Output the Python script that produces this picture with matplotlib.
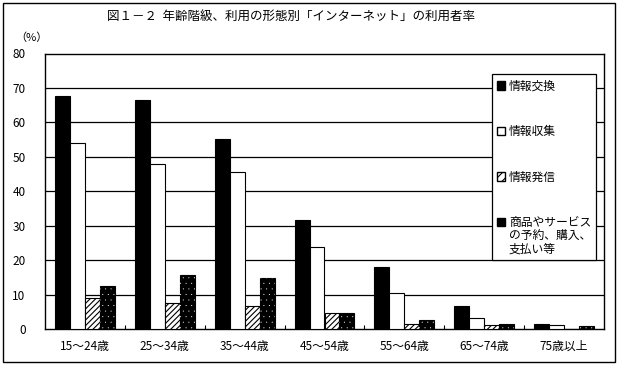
import numpy as np
import matplotlib
matplotlib.use("Agg")
import matplotlib.pyplot as plt
from matplotlib.patches import Rectangle, Patch
from matplotlib.legend_handler import HandlerPatch

plt.rcParams['font.family'] = ['Noto Sans CJK JP', 'DejaVu Sans']
plt.rcParams['hatch.linewidth'] = 0.8

ages = ["15～24歳", "25～34歳", "35～44歳", "45～54歳", "55～64歳", "65～74歳", "75歳以上"]
exchange = [67.8, 66.6, 55.2, 31.7, 18.0, 6.7, 1.5]
collect = [54.0, 47.9, 45.5, 23.8, 10.4, 3.3, 1.2]
send = [8.9, 7.5, 6.6, 4.6, 1.5, 1.2, 0.0]
shopping = [12.5, 15.7, 14.8, 4.6, 2.6, 1.5, 0.9]
labels = ["情報交換", "情報収集", "情報発信", "商品やサービス\nの予約、購入、\n支払い等"]
yticks = [0, 10, 20, 30, 40, 50, 60, 70, 80]

W, H = 620, 367
fig = plt.figure(figsize=(W / 100, H / 100), dpi=100)
ax = fig.add_axes([45 / W, 38 / H, (604 - 45) / W, (329 - 53.5) / H])

x = np.arange(len(ages))
bw = 0.1875
off = [-1.5 * bw, -0.5 * bw, 0.5 * bw, 1.5 * bw]

ax.bar(x + off[0], exchange, bw, color="black", edgecolor="black", lw=0.8, zorder=3)
ax.bar(x + off[1], collect, bw, color="white", edgecolor="black", lw=0.8, zorder=3)
ax.bar(x + off[2], send, bw, color="white", edgecolor="black", lw=0.8, hatch="//////", zorder=3)
# black bars with small white dots
ax.bar(x + off[3], shopping, bw, color="black", edgecolor="black", lw=0.8, zorder=3)
plt.rcParams['hatch.linewidth'] = 0.0
ax.bar(x + off[3], shopping, bw, fill=False, edgecolor="white", lw=0, hatch="...", zorder=4)
plt.rcParams['hatch.linewidth'] = 0.8

ax.set_xlim(-0.5, len(ages) - 0.5)
ax.set_ylim(0, 80)
ax.set_yticks(yticks)
ax.set_yticklabels([str(v) for v in yticks], fontsize=8.5)
ax.tick_params(axis="y", length=0, pad=14)
ax.set_xticks(x)
ax.set_xticklabels(ages, fontsize=8.5)
ax.tick_params(axis="x", which="major", length=0, pad=8)
ax.set_xticks(x[:-1] + 0.5, minor=True)
ax.tick_params(axis="x", which="minor", direction="in", length=3, width=0.8)
for v in yticks[1:-1]:
    ax.axhline(v, color="black", lw=0.9, zorder=1)
for s in ax.spines.values():
    s.set_linewidth(1.0)


# put the legend square at the first text line
def square_top(legend, orig_handle, xdescent, ydescent, width, height, fontsize):
    shift = 0
    if orig_handle.get_label() == "multi":
        shift = 10.5
    return Rectangle((-xdescent, -ydescent + shift), width, height)


handles = [
    Patch(facecolor="black", edgecolor="black"),
    Patch(facecolor="white", edgecolor="black"),
    Patch(facecolor="white", edgecolor="black", hatch="////"),
    Patch(facecolor="black", edgecolor="black", label="multi"),
]
leg = ax.legend(handles, labels, loc="upper right", bbox_to_anchor=(0.997, 1.0 - 15 / 275.5),
                fontsize=8.5, handlelength=0.7, handleheight=0.7, handletextpad=0.3,
                labelspacing=2.75, borderpad=0.45, frameon=True, fancybox=False,
                framealpha=1, edgecolor="black",
                handler_map={Patch: HandlerPatch(patch_func=square_top)})
leg.get_frame().set_linewidth(0.9)
leg.set_zorder(5)
for t in leg.get_texts():
    t.set_linespacing(1.0)

fig.text(291 / W, 1 - 16 / H, "図１－２  年齢階級、利用の形態別「インターネット」の利用者率",
         ha="center", va="center", fontsize=9)
fig.text(31 / W, 1 - 38 / H, "（%）", ha="center", va="center", fontsize=8)

fig.add_artist(Rectangle((3 / W, 5 / H), 612 / W, 359 / H, transform=fig.transFigure,
                         fill=False, edgecolor="black", lw=1.0))

fig.savefig("out.png", dpi=100)
